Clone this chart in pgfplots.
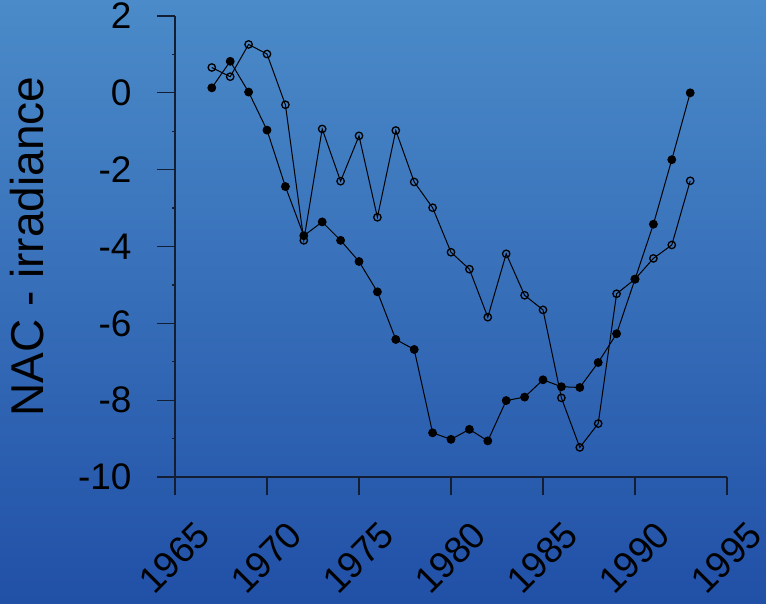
\documentclass[border=0pt]{standalone}
\usepackage{pgfplots}
\pgfplotsset{compat=1.18}
\usepackage{fontspec}
\setmainfont{Liberation Sans}
\definecolor{topc}{HTML}{4B8BC9}
\definecolor{botc}{HTML}{2150A7}
\definecolor{axc}{HTML}{141E33}
\begin{document}
\begin{tikzpicture}[x=1pt,y=1pt]
\useasboundingbox (0,0) rectangle (766,603);
\shade[top color=topc, bottom color=botc] (0,0) rectangle (766,603);
\begin{axis}[
  at={(175pt,126pt)}, anchor=south west,
  scale only axis, width=552pt, height=461pt,
  xmin=1965, xmax=1995, ymin=-10, ymax=2,
  axis x line*=bottom, axis y line*=left,
  axis line style={-, line width=1.2pt, color=axc},
  tick align=outside,
  major tick length=18pt,
  minor tick length=3pt,
  xtick={1965,1970,...,1995},
  ytick={-10,-8,...,2},
  minor y tick num=1,
  tick style={line width=1.2pt, color=axc},
  /pgf/number format/assume math mode=true,
  /pgf/number format/1000 sep={},
  tick label style={font=\fontsize{37}{40}\selectfont},
  xticklabel style={xshift=31pt, yshift=-31pt, rotate=45, anchor=east},
  yticklabel style={xshift=-22pt},
  ylabel={NAC - irradiance},
  ylabel style={font=\fontsize{46}{50}\selectfont, at={(axis description cs:-0.268,0.5)}, anchor=center},
  clip=false,
]
\addplot[black, line width=1pt, mark=o, mark size=3.7pt, mark options={line width=1.3pt}] coordinates {
(1967,0.66) (1968,0.42) (1969,1.26) (1970,1.01) (1971,-0.31) (1972,-3.84) (1973,-0.94) (1974,-2.30) (1975,-1.12) (1976,-3.24) (1977,-0.98) (1978,-2.32) (1979,-2.99) (1980,-4.15) (1981,-4.59) (1982,-5.84) (1983,-4.19) (1984,-5.27) (1985,-5.65) (1986,-7.94) (1987,-9.23) (1988,-8.61) (1989,-5.23) (1990,-4.85) (1991,-4.31) (1992,-3.96) (1993,-2.29)
};
\addplot[black, line width=1pt, mark=*, mark size=3.9pt] coordinates {
(1967,0.13) (1968,0.82) (1969,0.02) (1970,-0.97) (1971,-2.44) (1972,-3.72) (1973,-3.36) (1974,-3.84) (1975,-4.39) (1976,-5.18) (1977,-6.42) (1978,-6.68) (1979,-8.85) (1980,-9.02) (1981,-8.76) (1982,-9.06) (1983,-8.01) (1984,-7.92) (1985,-7.47) (1986,-7.65) (1987,-7.67) (1988,-7.02) (1989,-6.27) (1990,-4.85) (1991,-3.42) (1992,-1.74) (1993,0.00)
};
\end{axis}
\end{tikzpicture}
\end{document}
